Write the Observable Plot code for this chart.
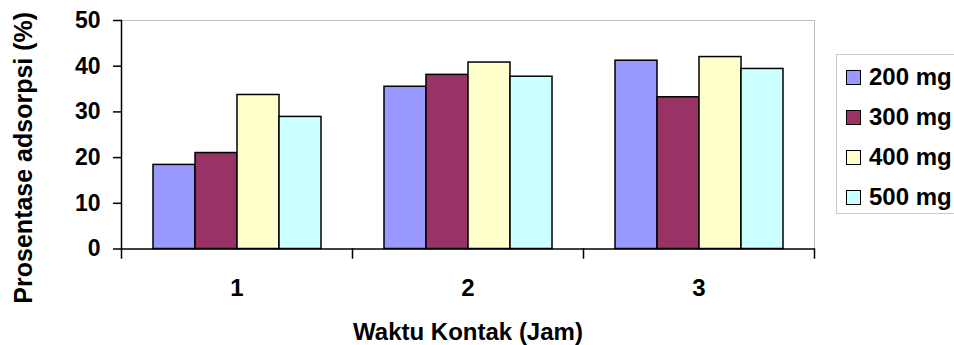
<!DOCTYPE html>
<html>
<head>
<meta charset="utf-8">
<script src="https://cdn.jsdelivr.net/npm/d3@7"></script>
<script src="https://cdn.jsdelivr.net/npm/@observablehq/plot@0.6"></script>
<style>
  html, body { margin: 0; padding: 0; background: #fff; overflow: hidden; }
  #wrap { position: relative; width: 954px; height: 345px; overflow: hidden; font-family: "Liberation Sans", Arial, sans-serif; }
  #legend { position: absolute; left: 836px; top: 54px; width: 140px; height: 160px; border: 1px solid #c8c8c8; box-sizing: border-box; background: #fff; }
  .item { position: absolute; left: 9px; height: 24px; display: flex; align-items: center; font-weight: bold; font-size: 24px; color: #000; white-space: nowrap; }
  .sw { width: 13px; height: 13px; border: 1.5px solid #000; margin-right: 8px; flex: none; }
</style>
</head>
<body>
<div id="wrap"><div id="chart"></div><div id="legend"></div></div>
<script>
// Data
const groups = [1, 2, 3];
const series = ["200 mg", "300 mg", "400 mg", "500 mg"];
const colors = ["#9999FF", "#993366", "#FFFFCC", "#CCFFFF"];
const values200 = [18.4, 35.5, 41.2];
const values300 = [21.0, 38.1, 33.2];
const values400 = [33.7, 40.8, 42.0];
const values500 = [28.9, 37.7, 39.4];
const yTicks = [0, 10, 20, 30, 40, 50];
const xTitle = "Waktu Kontak (Jam)";
const yTitle = "Prosentase adsorpsi (%)";

const seriesValues = [values200, values300, values400, values500];
const data = [];
groups.forEach((g, gi) => {
  series.forEach((s, si) => data.push({group: g, series: s, value: seriesValues[si][gi]}));
});

const marginTop = 20, marginBottom = 96.5, marginLeft = 120, marginRight = 139;
const H = 345;
const innerH = H - marginTop - marginBottom;

const chart = Plot.plot({
  width: 954,
  height: H,
  marginTop, marginBottom, marginLeft, marginRight,
  style: {fontFamily: "'Liberation Sans', Arial, sans-serif", fontSize: "23px", fontWeight: "bold", color: "#000", background: "transparent"},
  fx: {domain: groups, padding: 0},
  x: {domain: series, paddingInner: 0, paddingOuter: 0.726, axis: null},
  y: {domain: [0, 50]},
  color: {domain: series, range: colors},
  marks: [
    Plot.frame({anchor: "top", stroke: "#bdbdbd", strokeWidth: 1}),
    Plot.frame({anchor: "right", facetAnchor: "right", stroke: "#bdbdbd", strokeWidth: 1}),
    Plot.barY(data, {fx: "group", x: "series", y: "value", fill: "series", stroke: "#000", strokeWidth: 1.5}),
    Plot.ruleY([0], {stroke: "#000", strokeWidth: 1.5}),
    Plot.frame({anchor: "left", facetAnchor: "left", stroke: "#000", strokeWidth: 1.5}),
    Plot.frame({anchor: "left", insetTop: innerH, insetBottom: -9, stroke: "#000", strokeWidth: 1.5}),
    Plot.frame({anchor: "right", facetAnchor: "right", insetTop: innerH, insetBottom: -9, stroke: "#000", strokeWidth: 1.5}),
    Plot.axisY({ticks: yTicks, tickSize: 8, tickPadding: 13, strokeWidth: 1.5, label: null}),
    Plot.text([yTitle], {text: d => d, frameAnchor: "left", facetAnchor: "left", rotate: -90,
      textAnchor: "middle", lineAnchor: "middle", dx: -98, dy: 23, fontSize: 25, fill: "#000"}),
    Plot.axisFx({anchor: "bottom", tickSize: 0, tickPadding: 30, label: xTitle, labelAnchor: "center", labelArrow: "none", labelOffset: 91, fontSize: 24})
  ]
});
document.getElementById("chart").appendChild(chart);

// Legend
const legend = document.getElementById("legend");
series.forEach((s, i) => {
  const item = document.createElement("div");
  item.className = "item";
  item.style.top = (10 + i * 40) + "px";
  const sw = document.createElement("span");
  sw.className = "sw";
  sw.style.background = colors[i];
  item.appendChild(sw);
  item.appendChild(document.createTextNode(s));
  legend.appendChild(item);
});
</script>
</body>
</html>
